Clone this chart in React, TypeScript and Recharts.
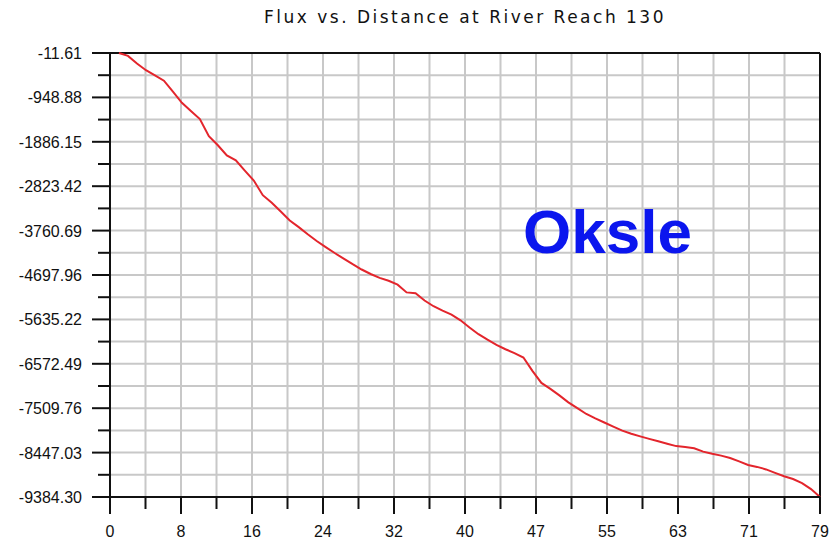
import { LineChart, Line, XAxis, YAxis, CartesianGrid, ReferenceLine } from 'recharts';

// Flux (y) at each distance step along the reach
const distance = [
  1, 2, 3, 4, 5, 6, 7, 8, 9, 10, 11, 12, 13, 14, 15, 16, 17, 18, 19, 20,
  21, 22, 23, 24, 25, 26, 27, 28, 29, 30, 31, 32, 33, 34, 35, 36, 37, 38, 39, 40,
  41, 42, 43, 44, 45, 46, 47, 48, 49, 50, 51, 52, 53, 54, 55, 56, 57, 58, 59, 60,
  61, 62, 63, 64, 65, 66, 67, 68, 69, 70, 71, 72, 73, 74, 75, 76, 77, 78, 79,
];

const flux = [
  -11.61, -73, -233, -375, -482, -596, -826, -1063, -1234, -1405,
  -1766, -1960, -2173, -2277, -2494, -2703, -3013, -3172, -3358, -3546,
  -3687, -3839, -3980, -4109, -4234, -4352, -4470, -4582, -4677, -4759,
  -4820, -4901, -5065, -5084, -5236, -5357, -5452, -5536, -5654, -5806,
  -5948, -6064, -6174, -6265, -6347, -6440, -6723, -6976, -7102, -7240,
  -7386, -7510, -7632, -7725, -7812, -7898, -7983, -8048, -8105, -8158,
  -8209, -8259, -8310, -8329, -8354, -8426, -8472, -8511, -8561, -8633,
  -8709, -8749, -8802, -8874, -8947, -9004, -9091, -9218, -9384.3,
];

const yTickLabels = [
  '-11.61', '-948.88', '-1886.15', '-2823.42', '-3760.69', '-4697.96',
  '-5635.22', '-6572.49', '-7509.76', '-8447.03', '-9384.30',
];

const xTickLabels = ['0', '8', '16', '24', '32', '40', '47', '55', '63', '71', '79'];

const X_MAX = 79;
const Y_MAX = -11.61;
const Y_MIN = -9384.3;

const data = distance.map((d, i) => ({ distance: d, flux: flux[i] }));

// major ticks carry labels, a minor tick sits halfway between each pair
const xTicks = Array.from({ length: 21 }, (_, i) => (X_MAX * i) / 20);
const yTicks = Array.from({ length: 21 }, (_, i) => Y_MAX + ((Y_MIN - Y_MAX) * i) / 20);

const FONT = '"Liberation Sans", Arial, sans-serif';

const XTick = (props: any) => {
  const { x, y, index } = props;
  const major = index % 2 === 0;
  return (
    <g>
      <line x1={x} y1={y} x2={x} y2={y + (major ? 17 : 12)} stroke="#111" strokeWidth={2} />
      {major && (
        <text x={x} y={y + 40} textAnchor="middle" fontSize={16} fill="#111" fontFamily={FONT}>
          {xTickLabels[index / 2]}
        </text>
      )}
    </g>
  );
};

const YTick = (props: any) => {
  const { x, y, index } = props;
  const major = index % 2 === 0;
  return (
    <g>
      <line x1={x - (major ? 18 : 12)} y1={y} x2={x} y2={y} stroke="#111" strokeWidth={2} />
      {major && (
        <text x={x - 28} y={y + 6} textAnchor="end" fontSize={16} fill="#111" fontFamily={FONT}>
          {yTickLabels[index / 2]}
        </text>
      )}
    </g>
  );
};

export default function App() {
  return (
    <div style={{ position: 'absolute', left: 0, top: 0, width: 830, height: 542, background: '#fff' }}>
      <LineChart
        width={830}
        height={542}
        data={data}
        margin={{ top: 53, right: 10, bottom: 0, left: 0 }}
      >
        <CartesianGrid stroke="#c8c8c8" strokeWidth={2} />
        <XAxis
          dataKey="distance"
          type="number"
          domain={[0, X_MAX]}
          ticks={xTicks}
          interval={0}
          height={45}
          tickSize={0}
          tickMargin={0}
          tickLine={false}
          tick={<XTick />}
          axisLine={{ stroke: '#111', strokeWidth: 2 }}
        />
        <YAxis
          type="number"
          domain={[Y_MIN, Y_MAX]}
          ticks={yTicks}
          interval={0}
          width={110}
          tickSize={0}
          tickMargin={0}
          tickLine={false}
          tick={<YTick />}
          axisLine={{ stroke: '#111', strokeWidth: 2 }}
        />
        <ReferenceLine y={Y_MAX} stroke="#111" strokeWidth={2} />
        <ReferenceLine x={X_MAX} stroke="#111" strokeWidth={2} />
        <Line
          type="linear"
          dataKey="flux"
          stroke="#e3252c"
          strokeWidth={2}
          dot={false}
          isAnimationActive={false}
        />
      </LineChart>
      <svg
        width={830}
        height={542}
        style={{ position: 'absolute', left: 0, top: 0, pointerEvents: 'none' }}
      >
        <text
          x={465}
          y={23}
          textAnchor="middle"
          fontSize={17}
          letterSpacing={2.5}
          fill="#111"
          fontFamily='"DejaVu Sans", sans-serif'
        >
          Flux vs. Distance at River Reach 130
        </text>
        <text x={523} y={253} fontSize={62} fontWeight="bold" fill="#0b16ee" fontFamily={FONT}>
          Oksle
        </text>
      </svg>
    </div>
  );
}
